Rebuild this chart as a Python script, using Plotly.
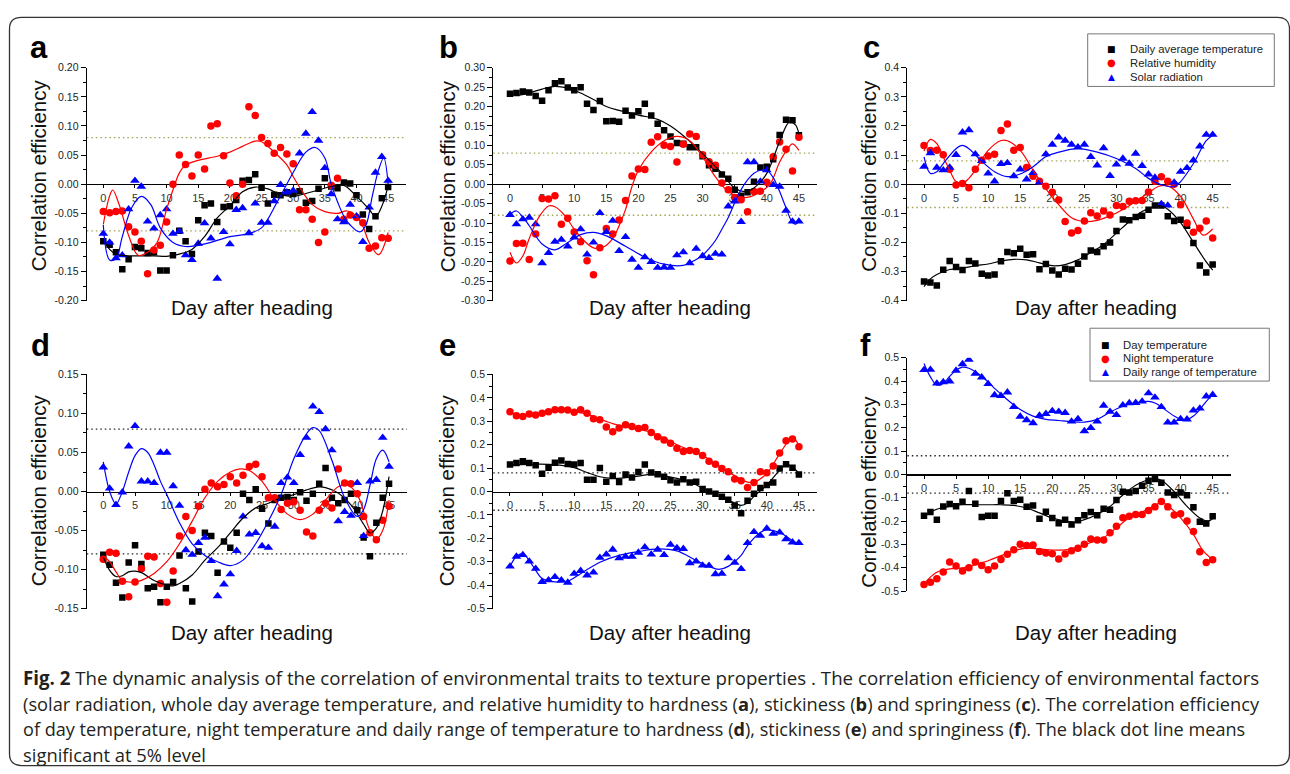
import plotly.graph_objects as go

W, H = 1290, 774
FONT = "Liberation Sans, Arial, sans-serif"

DAYS = list(range(46))
X_TICKS = [0, 5, 10, 15, 20, 25, 30, 35, 40, 45]
X_RANGE = [-2.6, 47.8]
SIG = 0.08

SERIES_TOP = ["Daily average temperature", "Relative humidity", "Solar radiation"]
SERIES_BOTTOM = ["Day temperature", "Night temperature", "Daily range of temperature"]

# ---------------- panel a (hardness) ----------------
A_BLACK = [-0.098,-0.104,-0.117,-0.146,-0.129,-0.108,-0.110,-0.118,-0.117,-0.148,-0.148,-0.122,-0.080,-0.098,-0.120,-0.062,-0.036,-0.033,-0.065,-0.039,-0.038,-0.027,0.006,0.007,0.017,-0.006,-0.033,-0.018,-0.019,-0.014,-0.017,-0.012,-0.032,-0.029,-0.008,0.010,-0.004,-0.007,0.003,0.001,-0.019,-0.052,-0.077,-0.055,-0.024,-0.005]
A_RED = [-0.047,-0.049,-0.047,-0.046,-0.073,-0.082,-0.098,-0.154,-0.113,-0.105,-0.065,0.000,0.050,0.034,0.014,0.050,0.026,0.100,0.104,0.049,0.002,-0.020,0.000,0.133,0.118,0.080,0.070,0.053,0.063,0.052,0.035,-0.044,-0.044,-0.060,-0.100,-0.082,-0.002,0.010,-0.060,-0.053,-0.057,-0.066,-0.110,-0.106,-0.092,-0.093]
A_BLUE = [-0.085,-0.100,-0.127,-0.122,-0.043,0.006,-0.004,-0.064,-0.076,-0.053,-0.043,-0.085,-0.081,-0.122,-0.130,-0.102,-0.067,-0.093,-0.162,-0.082,-0.103,-0.044,-0.041,-0.084,-0.033,-0.066,-0.066,-0.029,-0.001,-0.014,-0.011,0.053,0.087,0.124,0.075,0.028,-0.017,-0.060,-0.065,-0.035,-0.055,-0.099,-0.040,0.020,0.047,0.006]
A_BLACK_FX = [0,1,2,4,6,8,10,11,12,14,16,18,20,22,24,26,28,30,32,34,36,38,40,42,43,44,45]
A_BLACK_FY = [-0.095,-0.112,-0.120,-0.123,-0.123,-0.123,-0.124,-0.122,-0.120,-0.112,-0.090,-0.058,-0.037,-0.013,-0.005,-0.008,-0.018,-0.021,-0.016,-0.010,-0.004,-0.002,-0.021,-0.043,-0.056,-0.038,-0.003]
A_RED_FX = [0,1,1.5,2.5,4,5.5,7,8.5,10,11,12,13,15,18,20,22,24,25,27,29,30,31,33,35,37,38.5,40,41,42,43.5,45]
A_RED_FY = [-0.069,-0.02,-0.010,-0.035,-0.088,-0.122,-0.117,-0.100,-0.043,-0.010,0.019,0.033,0.041,0.048,0.055,0.065,0.074,0.073,0.055,0.033,0.013,-0.005,-0.035,-0.047,-0.050,-0.046,-0.055,-0.072,-0.100,-0.121,-0.083]
A_BLUE_FX = [0,1,2,3,4.5,6,7.5,9,11,13,15,17,20,23,25,26,27,28,30,32,33.5,35,36,37,38,39,40.5,41.5,42.5,43.5,44.3,45]
A_BLUE_FY = [-0.070,-0.130,-0.128,-0.090,-0.040,-0.021,-0.035,-0.075,-0.100,-0.107,-0.105,-0.100,-0.090,-0.085,-0.075,-0.060,-0.040,-0.020,0.020,0.055,0.063,0.045,0.000,-0.030,-0.055,-0.070,-0.082,-0.070,-0.020,0.025,0.045,0.000]

# ---------------- panel b (stickiness) ----------------
B_BLACK = [0.233,0.235,0.239,0.236,0.227,0.215,0.242,0.260,0.265,0.249,0.242,0.250,0.207,0.191,0.214,0.162,0.163,0.161,0.189,0.177,0.188,0.207,0.177,0.156,0.139,0.123,0.106,0.104,0.095,0.095,0.072,0.049,0.040,0.025,0.014,-0.014,-0.030,-0.021,0.006,0.043,0.045,0.064,0.127,0.166,0.165,0.126]
B_RED = [-0.198,-0.153,-0.152,-0.194,-0.128,-0.037,-0.038,-0.030,-0.103,-0.088,-0.123,-0.148,-0.197,-0.233,-0.164,-0.114,-0.128,-0.092,-0.042,0.021,0.039,0.038,0.108,0.122,0.100,0.097,0.057,0.103,0.129,0.123,0.076,0.058,0.049,0.003,-0.014,-0.034,-0.040,-0.071,-0.019,-0.018,0.005,0.071,0.109,0.090,0.034,0.121]
B_BLUE = [-0.079,-0.103,-0.090,-0.086,-0.103,-0.203,-0.177,-0.148,-0.143,-0.160,-0.137,-0.116,-0.181,-0.150,-0.074,-0.123,-0.094,-0.172,-0.136,-0.194,-0.215,-0.188,-0.200,-0.215,-0.214,-0.215,-0.183,-0.175,-0.203,-0.166,-0.185,-0.190,-0.179,-0.181,-0.057,-0.044,-0.097,0.057,0.057,0.007,0.036,-0.002,-0.006,-0.068,-0.096,-0.096]
B_BLACK_FX = [0,1,3,5,7,9,11,13,15,17,20,23,25,27,29,31,33,35,36.5,38,40,42,43.5,44.5,45]
B_BLACK_FY = [0.235,0.229,0.235,0.245,0.252,0.247,0.235,0.218,0.200,0.190,0.178,0.167,0.150,0.125,0.095,0.062,0.028,-0.010,-0.019,-0.010,0.028,0.110,0.160,0.152,0.128]
B_RED_FX = [0,1,2,3,4.5,6,7,8.5,10,11.5,13,14.5,16,17,18,19,20,22,24,26,28,30,32,34,36,37.5,39,40.5,42,43,44,45]
B_RED_FY = [-0.175,-0.203,-0.185,-0.140,-0.085,-0.056,-0.058,-0.080,-0.116,-0.145,-0.164,-0.162,-0.140,-0.107,-0.065,-0.006,0.036,0.083,0.112,0.123,0.112,0.070,0.019,-0.019,-0.034,-0.032,-0.020,0.000,0.057,0.085,0.104,0.087]
B_BLUE_FX = [0,1,2,3,5,7,9,11,13,15,18,21,24,27,29,30,31,32,33,34,35,36,37,38,39,40,41,42,43,44,44.5,45]
B_BLUE_FY = [-0.078,-0.069,-0.085,-0.107,-0.154,-0.169,-0.150,-0.130,-0.124,-0.133,-0.160,-0.188,-0.206,-0.209,-0.194,-0.183,-0.166,-0.145,-0.116,-0.086,-0.048,-0.014,0.011,0.028,0.036,0.036,0.017,-0.019,-0.061,-0.099,-0.103,-0.095]

# ---------------- panel c (springiness) ----------------
C_BLACK = [-0.334,-0.338,-0.348,-0.294,-0.264,-0.284,-0.295,-0.264,-0.272,-0.308,-0.314,-0.310,-0.265,-0.233,-0.237,-0.222,-0.242,-0.241,-0.292,-0.274,-0.296,-0.310,-0.290,-0.293,-0.273,-0.248,-0.228,-0.233,-0.213,-0.200,-0.161,-0.121,-0.124,-0.113,-0.108,-0.088,-0.073,-0.073,-0.110,-0.126,-0.122,-0.143,-0.202,-0.279,-0.303,-0.276]
C_RED = [0.133,0.116,0.117,0.101,0.051,-0.003,0.002,-0.012,0.051,0.082,0.097,0.103,0.184,0.207,0.117,0.126,0.057,0.027,0.010,-0.007,-0.028,-0.054,-0.128,-0.168,-0.159,-0.126,-0.098,-0.109,-0.092,-0.106,-0.073,-0.077,-0.059,-0.057,-0.056,-0.027,0.010,0.026,0.010,0.000,-0.071,-0.133,-0.165,-0.151,-0.126,-0.185]
C_BLUE = [0.060,0.107,0.057,0.048,0.057,0.101,0.178,0.186,0.103,0.080,0.037,0.010,0.070,0.073,0.028,0.051,0.017,0.039,0.006,0.103,0.136,0.161,0.150,0.136,0.127,0.136,0.094,0.065,0.124,0.029,0.068,0.088,0.071,0.105,0.063,0.034,0.023,-0.068,-0.073,0.006,0.043,0.056,0.082,0.130,0.170,0.170]
C_BLACK_FX = [0,1,2,4,6,8,10,12,14,16,18,20,22,24,26,28,30,32,34,36,37,38,40,42,44,45]
C_BLACK_FY = [-0.352,-0.325,-0.310,-0.293,-0.288,-0.280,-0.274,-0.264,-0.258,-0.260,-0.270,-0.280,-0.276,-0.260,-0.235,-0.207,-0.168,-0.128,-0.094,-0.076,-0.074,-0.086,-0.132,-0.200,-0.267,-0.295]
C_RED_FX = [0,1,2,3,4,5,6,7,8,10,12,13,15,17,19,21,23,25,27,29,31,33,35,36.5,38,40,42,43.5,45]
C_RED_FY = [0.114,0.154,0.139,0.094,0.048,0.009,0.003,0.020,0.048,0.116,0.150,0.149,0.116,0.048,-0.016,-0.070,-0.115,-0.128,-0.124,-0.109,-0.087,-0.059,-0.030,-0.008,-0.006,-0.042,-0.120,-0.175,-0.154]
C_BLUE_FX = [0,1,2,3,5,6,7,9,11,13,15,17,19,21,24,27,30,33,35,37,39,40,42,44,45]
C_BLUE_FY = [0.094,0.037,0.043,0.071,0.122,0.133,0.122,0.079,0.043,0.026,0.035,0.060,0.094,0.110,0.122,0.110,0.088,0.054,0.020,-0.002,-0.008,0.009,0.071,0.150,0.167]

# ---------------- panel d (hardness) ----------------
D_BLACK = [-0.081,-0.094,-0.117,-0.136,-0.091,-0.069,-0.093,-0.124,-0.122,-0.142,-0.122,-0.116,-0.082,-0.124,-0.141,-0.077,-0.053,-0.057,-0.104,-0.064,-0.072,-0.053,-0.003,-0.011,0.003,-0.022,-0.041,-0.011,-0.008,-0.007,-0.011,-0.001,-0.012,-0.003,0.010,0.030,-0.008,-0.015,-0.011,-0.003,-0.024,-0.059,-0.083,-0.040,-0.008,0.010]
D_RED = [-0.087,-0.078,-0.079,-0.115,-0.135,-0.116,-0.099,-0.083,-0.084,-0.118,-0.142,-0.102,-0.057,-0.032,-0.050,-0.019,0.003,0.011,0.006,0.009,0.019,0.011,0.021,0.032,0.035,0.019,-0.008,-0.008,-0.023,-0.015,-0.013,-0.024,-0.052,-0.057,-0.024,-0.015,-0.021,0.029,0.011,0.010,-0.003,-0.032,-0.053,-0.062,-0.037,-0.019]
D_BLUE = [0.031,0.004,-0.017,-0.001,0.058,0.084,0.013,0.013,0.011,0.050,0.050,0.007,-0.018,-0.075,-0.081,-0.066,-0.059,-0.089,-0.134,-0.119,-0.106,-0.076,-0.032,-0.055,-0.053,-0.070,-0.072,-0.045,0.011,0.018,0.011,0.047,0.069,0.109,0.102,0.080,0.053,-0.038,-0.026,-0.031,0.011,-0.057,0.013,0.015,0.069,0.032]
D_BLACK_FX = [0,1,2,3,4,5,6,8,10,11,12,14,16,18,20,22,24,26,28,30,32,34,35,37,39,41,42,43,44,45]
D_BLACK_FY = [-0.084,-0.101,-0.109,-0.108,-0.103,-0.102,-0.104,-0.114,-0.120,-0.121,-0.118,-0.107,-0.088,-0.072,-0.053,-0.034,-0.021,-0.015,-0.008,-0.004,0.002,0.006,0.005,-0.002,-0.017,-0.042,-0.053,-0.047,-0.025,0.019]
D_RED_FX = [0,1,2,3,4,5,6,8,10,12,14,16,18,20,21.5,23,25,27,29,31,33,35,37,38.5,40,42,43,44,45]
D_RED_FY = [-0.083,-0.090,-0.103,-0.114,-0.116,-0.116,-0.114,-0.105,-0.090,-0.067,-0.038,-0.008,0.013,0.025,0.029,0.027,0.013,-0.011,-0.029,-0.036,-0.029,-0.011,0.006,0.008,-0.004,-0.050,-0.061,-0.050,-0.011]
D_BLUE_FX = [0,1,2,3,4,5,6,7,8,9,10,12,14,16,18,20,22,24,26,28,30,32,33,34,36,38,40,41,42,43,44,45]
D_BLUE_FY = [0.038,0.000,-0.016,0.000,0.025,0.046,0.055,0.050,0.034,0.013,-0.004,-0.040,-0.067,-0.082,-0.090,-0.095,-0.088,-0.067,-0.038,-0.004,0.042,0.074,0.082,0.078,0.040,-0.008,-0.032,-0.023,0.008,0.042,0.053,0.038]

# ---------------- panel e (stickiness) ----------------
E_BLACK = [0.115,0.122,0.129,0.122,0.112,0.076,0.101,0.123,0.133,0.118,0.115,0.122,0.050,0.050,0.100,0.042,0.066,0.041,0.073,0.060,0.083,0.115,0.081,0.074,0.063,0.048,0.039,0.052,0.039,0.042,0.011,0.000,-0.010,-0.022,-0.035,-0.060,-0.093,-0.039,-0.010,0.015,0.028,0.038,0.098,0.116,0.102,0.073]
E_RED = [0.341,0.324,0.320,0.331,0.327,0.334,0.341,0.349,0.349,0.348,0.339,0.349,0.334,0.311,0.307,0.276,0.255,0.271,0.285,0.278,0.269,0.273,0.252,0.234,0.220,0.206,0.185,0.171,0.175,0.171,0.154,0.129,0.116,0.098,0.084,0.053,0.046,0.017,0.039,0.084,0.080,0.109,0.165,0.217,0.224,0.191]
E_BLUE = [-0.320,-0.278,-0.271,-0.299,-0.330,-0.386,-0.379,-0.365,-0.379,-0.389,-0.351,-0.339,-0.358,-0.346,-0.283,-0.269,-0.248,-0.285,-0.278,-0.278,-0.261,-0.238,-0.269,-0.248,-0.271,-0.227,-0.241,-0.245,-0.306,-0.299,-0.316,-0.317,-0.353,-0.351,-0.285,-0.304,-0.331,-0.220,-0.173,-0.189,-0.158,-0.180,-0.175,-0.203,-0.217,-0.220]
E_BLACK_FX = [0,3,6,8,10,12,14,16,18,20,22,24,26,28,30,32,34,36,37,38,40,42,43,44,45]
E_BLACK_FY = [0.112,0.116,0.116,0.112,0.102,0.081,0.063,0.056,0.059,0.066,0.073,0.067,0.056,0.042,0.014,-0.014,-0.039,-0.059,-0.049,-0.021,0.028,0.091,0.116,0.105,0.077]
E_RED_FX = [0,3,6,9,12,14,16,18,20,22,24,26,28,30,32,34,36,37,38,40,42,44,45]
E_RED_FY = [0.337,0.323,0.340,0.345,0.331,0.310,0.290,0.276,0.266,0.252,0.228,0.200,0.177,0.154,0.119,0.084,0.052,0.040,0.040,0.077,0.161,0.230,0.196]
E_BLUE_FX = [0,1,2,3,4,5,7,9,11,14,17,20,23,26,29,31,32.5,34,36,37,39,40,42,44,45]
E_BLUE_FY = [-0.320,-0.278,-0.266,-0.295,-0.337,-0.372,-0.386,-0.383,-0.351,-0.302,-0.273,-0.257,-0.245,-0.254,-0.295,-0.320,-0.333,-0.320,-0.273,-0.231,-0.175,-0.164,-0.175,-0.210,-0.224]

# ---------------- panel f (springiness) ----------------
F_BLACK = [-0.177,-0.161,-0.194,-0.137,-0.127,-0.136,-0.117,-0.071,-0.126,-0.182,-0.177,-0.177,-0.114,-0.081,-0.114,-0.109,-0.139,-0.133,-0.190,-0.160,-0.187,-0.209,-0.194,-0.215,-0.196,-0.175,-0.161,-0.175,-0.147,-0.151,-0.110,-0.074,-0.078,-0.071,-0.049,-0.027,-0.020,-0.036,-0.078,-0.088,-0.078,-0.089,-0.141,-0.203,-0.210,-0.179]
F_RED = [-0.472,-0.462,-0.447,-0.418,-0.375,-0.392,-0.414,-0.400,-0.375,-0.390,-0.409,-0.393,-0.365,-0.342,-0.323,-0.299,-0.305,-0.302,-0.330,-0.337,-0.340,-0.362,-0.341,-0.327,-0.316,-0.299,-0.277,-0.281,-0.281,-0.250,-0.222,-0.186,-0.179,-0.172,-0.172,-0.155,-0.139,-0.116,-0.139,-0.174,-0.169,-0.200,-0.245,-0.331,-0.378,-0.366]
F_BLUE = [0.448,0.449,0.390,0.396,0.399,0.445,0.473,0.492,0.432,0.416,0.388,0.340,0.337,0.352,0.290,0.248,0.233,0.220,0.252,0.260,0.272,0.269,0.264,0.227,0.238,0.186,0.199,0.227,0.295,0.269,0.255,0.297,0.306,0.307,0.313,0.348,0.330,0.289,0.223,0.223,0.238,0.236,0.274,0.283,0.335,0.341]
F_BLACK_FX = [0,2,4,6,8,10,12,14,16,18,20,22,23.5,25,27,29,31,33,34.5,36,37,39,41,43,44.3,45]
F_BLACK_FY = [-0.180,-0.149,-0.137,-0.130,-0.130,-0.130,-0.130,-0.133,-0.144,-0.165,-0.187,-0.200,-0.205,-0.194,-0.172,-0.137,-0.088,-0.046,-0.027,-0.018,-0.025,-0.074,-0.137,-0.187,-0.200,-0.189]
F_RED_FX = [0,1,2,4,6,8,10,12,14,16,18,20,22,24,26,28,30,32,34,36,37,38,40,42,43.5,45]
F_RED_FY = [-0.468,-0.440,-0.419,-0.405,-0.401,-0.387,-0.370,-0.348,-0.327,-0.316,-0.320,-0.324,-0.323,-0.313,-0.292,-0.271,-0.229,-0.186,-0.161,-0.133,-0.119,-0.134,-0.186,-0.257,-0.327,-0.366]
F_BLUE_FX = [0,1,2,3,4,5,6,7,9,11,13,15,17,19,21,23,25,27,29,31,33,35,36,37,39,40,41,42,43,44,45]
F_BLUE_FY = [0.475,0.418,0.383,0.390,0.420,0.447,0.460,0.455,0.421,0.369,0.320,0.278,0.250,0.236,0.231,0.226,0.224,0.236,0.267,0.292,0.306,0.313,0.306,0.289,0.250,0.236,0.234,0.250,0.278,0.313,0.341]

# ---------------- y-axis scales per panel ----------------
A_YTICKS = [0.20,0.15,0.10,0.05,0.00,-0.05,-0.10,-0.15,-0.20]
B_YTICKS = [0.30,0.25,0.20,0.15,0.10,0.05,0.00,-0.05,-0.10,-0.15,-0.20,-0.25,-0.30]
C_YTICKS = [0.4,0.3,0.2,0.1,0.0,-0.1,-0.2,-0.3,-0.4]
D_YTICKS = [0.15,0.10,0.05,0.00,-0.05,-0.10,-0.15]
E_YTICKS = [0.5,0.4,0.3,0.2,0.1,0.0,-0.1,-0.2,-0.3,-0.4,-0.5]
F_YTICKS = E_YTICKS

PANELS = [
    dict(letter="a", names=SERIES_TOP, y=[A_BLACK, A_RED, A_BLUE],
         fx=[A_BLACK_FX, A_RED_FX, A_BLUE_FX], fy=[A_BLACK_FY, A_RED_FY, A_BLUE_FY],
         yticks=A_YTICKS, fmt="{:.2f}", minor=0.025, x0=103.3, pxd=6.33, top=62.7, bot=299.3,
         dot="#a3a355", lx=39, ly=42.5, ytx=38.5, yty=172.5, xtx=251.7, xty=306.5),
    dict(letter="b", names=SERIES_TOP, y=[B_BLACK, B_RED, B_BLUE],
         fx=[B_BLACK_FX, B_RED_FX, B_BLUE_FX], fy=[B_BLACK_FY, B_RED_FY, B_BLUE_FY],
         yticks=B_YTICKS, fmt="{:.2f}", minor=0.025, x0=510, pxd=6.42, top=62.7, bot=299.3,
         dot="#a3a355", lx=448.5, ly=42.5, ytx=448.3, yty=172.5, xtx=670, xty=306.5),
    dict(letter="c", names=SERIES_TOP, y=[C_BLACK, C_RED, C_BLUE],
         fx=[C_BLACK_FX, C_RED_FX, C_BLUE_FX], fy=[C_BLACK_FY, C_RED_FY, C_BLUE_FY],
         yticks=C_YTICKS, fmt="{:.1f}", minor=0.05, x0=924, pxd=6.415, top=62.7, bot=299.3,
         dot="#a3a355", lx=871, ly=42.5, ytx=869, yty=172.5, xtx=1095.7, xty=306.5),
    dict(letter="d", names=SERIES_BOTTOM, y=[D_BLACK, D_RED, D_BLUE],
         fx=[D_BLACK_FX, D_RED_FX, D_BLUE_FX], fy=[D_BLACK_FY, D_RED_FY, D_BLUE_FY],
         yticks=D_YTICKS, fmt="{:.2f}", minor=0.025, x0=103.3, pxd=6.35, top=374.3, bot=612.0,
         dot="#222222", lx=40, ly=344.5, ytx=38.5, yty=492.5, xtx=251.7, xty=636),
    dict(letter="e", names=SERIES_BOTTOM, y=[E_BLACK, E_RED, E_BLUE],
         fx=[E_BLACK_FX, E_RED_FX, E_BLUE_FX], fy=[E_BLACK_FY, E_RED_FY, E_BLUE_FY],
         yticks=E_YTICKS, fmt="{:.1f}", minor=0.05, x0=510, pxd=6.42, top=374.3, bot=612.0,
         dot="#222222", lx=447.5, ly=344.5, ytx=446.5, yty=492.5, xtx=670, xty=636),
    dict(letter="f", names=SERIES_BOTTOM, y=[F_BLACK, F_RED, F_BLUE],
         fx=[F_BLACK_FX, F_RED_FX, F_BLUE_FX], fy=[F_BLACK_FY, F_RED_FY, F_BLUE_FY],
         yticks=F_YTICKS, fmt="{:.1f}", minor=0.05, x0=924, pxd=6.415, top=357.3, bot=594.3,
         dot="#222222", lx=866, ly=344.5, ytx=868.3, yty=493, xtx=1095.7, xty=636),
]

COLORS = ["#000000", "#ff0000", "#0000ff"]
SYMBOLS = ["square", "circle", "triangle-up"]
SIZES = [6.5, 7.5, 8.5]


def px(x):
    return x / W


def py(y):
    return 1 - y / H


fig = go.Figure()
layout = dict(
    width=W, height=H, margin=dict(l=0, r=0, t=0, b=0),
    paper_bgcolor="white", plot_bgcolor="white", showlegend=False,
    font=dict(family=FONT, color="#111"),
)
shapes = []
annotations = []

for i, p in enumerate(PANELS):
    n = "" if i == 0 else str(i + 1)
    xref, yref = "x" + n, "y" + n
    left = p["x0"] + X_RANGE[0] * p["pxd"]
    right = p["x0"] + X_RANGE[1] * p["pxd"]
    ymax = p["yticks"][0]
    zero_px = (p["top"] + p["bot"]) / 2
    layout["xaxis" + n] = dict(
        domain=[px(left), px(right)], range=X_RANGE, anchor="free", position=py(zero_px),
        showline=True, linecolor="black", linewidth=1.2, ticks="outside", ticklen=3,
        tickcolor="black", tickvals=X_TICKS, ticktext=[str(t) for t in X_TICKS],
        tickfont=dict(family=FONT, size=11, color="#333"), showgrid=False, zeroline=False,
        layer="below traces", fixedrange=True,
    )
    layout["yaxis" + n] = dict(
        domain=[py(p["bot"]), py(p["top"])], range=[-ymax, ymax], anchor=xref,
        showline=True, linecolor="black", linewidth=1.2, ticks="outside", ticklen=5,
        tickcolor="black", tickvals=p["yticks"], ticktext=[p["fmt"].format(v) for v in p["yticks"]],
        tickfont=dict(family=FONT, size=10.5, color="#222"), showgrid=False, zeroline=False,
        minor=dict(dtick=p["minor"], tick0=0, ticks="outside", ticklen=3, tickcolor="black", showgrid=False),
        layer="below traces", fixedrange=True,
    )
    for s in (SIG, -SIG):
        shapes.append(dict(type="line", xref=xref + " domain", yref=yref, x0=0, x1=1, y0=s, y1=s,
                           line=dict(color=p["dot"], width=1.3, dash="1.5px,3px"), layer="below"))
    for k in range(3):
        fig.add_trace(go.Scatter(
            x=DAYS, y=p["y"][k], mode="markers", name=p["names"][k], xaxis=xref, yaxis=yref,
            marker=dict(symbol=SYMBOLS[k], size=SIZES[k], color=COLORS[k], line=dict(width=0)),
            hoverinfo="skip"))
    for k in range(3):
        fig.add_trace(go.Scatter(
            x=p["fx"][k], y=p["fy"][k], mode="lines", name=p["names"][k] + " fit",
            xaxis=xref, yaxis=yref, line=dict(color=COLORS[k], width=1.2, shape="spline", smoothing=1.0),
            hoverinfo="skip"))
    annotations.append(dict(text="<b>" + p["letter"] + "</b>", x=px(p["lx"]), y=py(p["ly"]),
                            xref="paper", yref="paper", showarrow=False, xanchor="center", yanchor="middle",
                            font=dict(family=FONT, size=31, color="#000")))
    annotations.append(dict(text="Correlation efficiency", x=px(p["ytx"]), y=py(p["yty"]), textangle=-90,
                            xref="paper", yref="paper", showarrow=False, xanchor="center", yanchor="middle",
                            font=dict(family=FONT, size=20.5, color="#111")))
    annotations.append(dict(text="Day after heading", x=px(p["xtx"]), y=py(p["xty"]),
                            xref="paper", yref="paper", showarrow=False, xanchor="center", yanchor="middle",
                            font=dict(family=FONT, size=20.5, color="#111")))

# legends (panel c and panel f)
GLYPHS = ["\u25A0", "\u25CF", "\u25B2"]
LEGENDS = [
    dict(names=SERIES_TOP, box=(1087.7, 28.3, 1274.3, 81.7), mx=1111.7, tx=1127.7, ys=[44, 57.7, 71.7]),
    dict(names=SERIES_BOTTOM, box=(1090, 327.3, 1269.3, 381), mx=1105, tx=1121, ys=[344, 357.7, 371.7]),
]
for lg in LEGENDS:
    x0, y0, x1, y1 = lg["box"]
    shapes.append(dict(type="rect", xref="paper", yref="paper", x0=px(x0), x1=px(x1), y0=py(y1), y1=py(y0),
                       line=dict(color="#777", width=1), fillcolor="white", layer="above"))
    for k in range(3):
        annotations.append(dict(text=GLYPHS[k], x=px(lg["mx"]), y=py(lg["ys"][k]), xref="paper", yref="paper",
                                showarrow=False, xanchor="center", yanchor="middle",
                                font=dict(family="DejaVu Sans", size=[9, 10, 9][k], color=COLORS[k])))
        annotations.append(dict(text=lg["names"][k], x=px(lg["tx"]), y=py(lg["ys"][k]), xref="paper", yref="paper",
                                showarrow=False, xanchor="left", yanchor="middle",
                                font=dict(family=FONT, size=11.3, color="#222")))

# outer rounded frame
fx0, fy0, fx1, fy1, r = 9.5, 11.5, 1289.5, 771.5, 12


def P(x, y):
    return f"{px(x):.6f},{py(y):.6f}"


path = (f"M {P(fx0 + r, fy0)} L {P(fx1 - r, fy0)} Q {P(fx1, fy0)} {P(fx1, fy0 + r)} "
        f"L {P(fx1, fy1 - r)} Q {P(fx1, fy1)} {P(fx1 - r, fy1)} L {P(fx0 + r, fy1)} "
        f"Q {P(fx0, fy1)} {P(fx0, fy1 - r)} L {P(fx0, fy0 + r)} Q {P(fx0, fy0)} {P(fx0 + r, fy0)} Z")
shapes.append(dict(type="path", xref="paper", yref="paper", path=path,
                   line=dict(color="#333", width=1.3), layer="above"))

# caption
CAPTION = [
    "<b>Fig. 2</b> The dynamic analysis of the correlation of environmental traits to texture properties . The correlation efficiency of environmental factors",
    "(solar radiation, whole day average temperature, and relative humidity to hardness (<b>a</b>), stickiness (<b>b</b>) and springiness (<b>c</b>). The correlation efficiency",
    "of day temperature, night temperature and daily range of temperature to hardness (<b>d</b>), stickiness (<b>e</b>) and springiness (<b>f</b>). The black dot line means",
    "significant at 5% level",
]
CAP_Y = [682, 708, 734, 760]
CAP_SIZE = [18.7, 18.25, 18.1, 18.4]
for line, yy, sz in zip(CAPTION, CAP_Y, CAP_SIZE):
    annotations.append(dict(text=line, x=px(21), y=py(yy), xref="paper", yref="paper", showarrow=False,
                            xanchor="left", yanchor="middle",
                            font=dict(family="Open Sans, sans-serif", size=sz, color="#231f20")))

layout["shapes"] = shapes
layout["annotations"] = annotations
fig.update_layout(**layout)
fig.write_html("out.html", config={"displayModeBar": False, "staticPlot": True})
